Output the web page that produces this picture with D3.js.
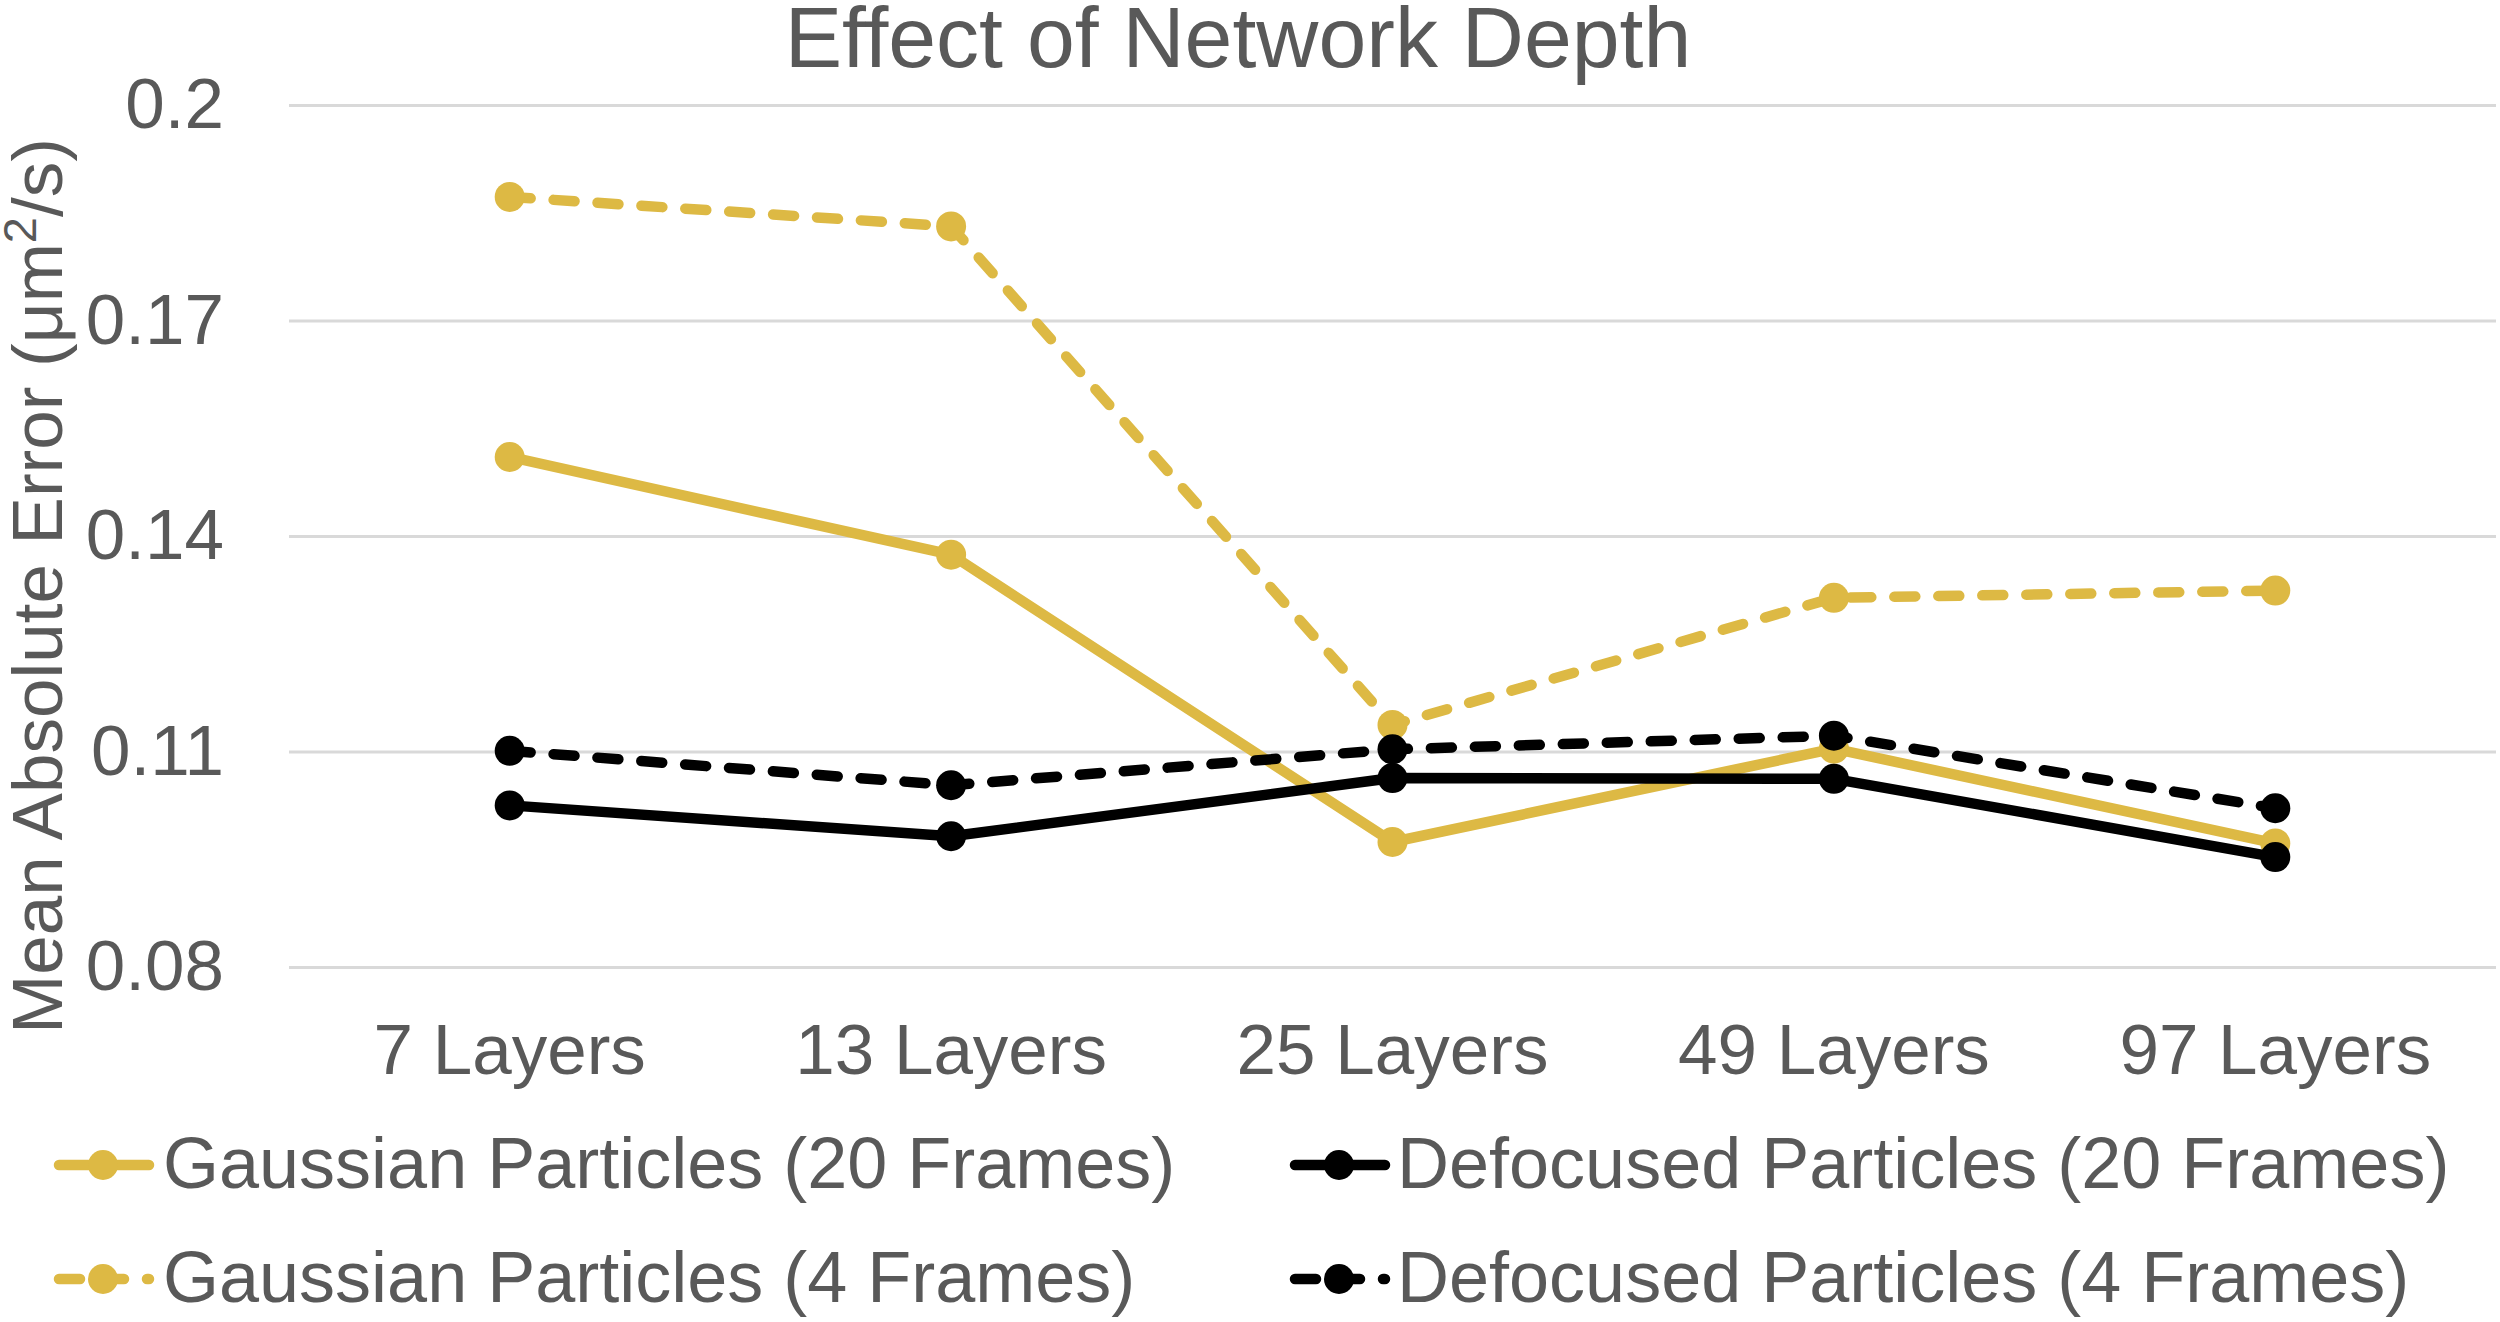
<!DOCTYPE html>
<html>
<head>
<meta charset="utf-8">
<script src="https://cdn.jsdelivr.net/npm/d3@7"></script>
<style>
  html, body { margin: 0; padding: 0; background: #ffffff; }
  svg { display: block; }
  text { font-family: "Liberation Sans", Arial, sans-serif; fill: #595959; }
</style>
</head>
<body>
<svg id="chart" width="2500" height="1322"></svg>
<script>
const categories = ["7 Layers", "13 Layers", "25 Layers", "49 Layers", "97 Layers"];
const gaussian20 = [0.1510, 0.1374, 0.0974, 0.1104, 0.0972];
const defocused20 = [0.1025, 0.0982, 0.1063, 0.1062, 0.0953];
const gaussian4 = [0.1872, 0.1831, 0.1137, 0.1314, 0.1324];
const defocused4 = [0.1101, 0.1053, 0.1103, 0.1122, 0.1021];
const yTicks = [0.08, 0.11, 0.14, 0.17, 0.2];
const yTickLabels = ["0.08", "0.11", "0.14", "0.17", "0.2"];
const seriesNames = ["Gaussian Particles (20 Frames)", "Defocused Particles (20 Frames)",
                     "Gaussian Particles (4 Frames)", "Defocused Particles (4 Frames)"];
const titleText = "Effect of Network Depth";

const GOLD = "#DDB944", BLACK = "#000000";
const series = [
  { name: seriesNames[0], values: gaussian20, color: GOLD, dashed: false },
  { name: seriesNames[1], values: defocused20, color: BLACK, dashed: false },
  { name: seriesNames[2], values: gaussian4, color: GOLD, dashed: true },
  { name: seriesNames[3], values: defocused4, color: BLACK, dashed: true }
];

const svg = d3.select("#chart");
const plotL = 289, plotR = 2496, plotT = 105, plotB = 967;

const x = d3.scaleBand().domain(categories).range([plotL, plotR]);
const y = d3.scaleLinear().domain([0.08, 0.2]).range([plotB, plotT]);

// Title
svg.append("text").attr("x", 1238).attr("y", 67).attr("text-anchor", "middle")
  .style("font-size", "86px").text(titleText);

// Y axis with gridlines
const yAxis = svg.append("g").attr("transform", `translate(${plotL},0)`)
  .call(d3.axisLeft(y).tickValues(yTicks)
    .tickFormat((d, i) => yTickLabels[i])
    .tickSize(-(plotR - plotL)).tickPadding(65));
yAxis.select(".domain").remove();
yAxis.selectAll(".tick line").attr("stroke", "#D9D9D9").attr("stroke-width", 3);
yAxis.selectAll(".tick text").style("font-size", "71px").attr("fill", "#595959")
  .style("font-family", "'Liberation Sans', Arial, sans-serif");

// X axis
const xAxis = svg.append("g").attr("transform", `translate(0,${plotB})`)
  .call(d3.axisBottom(x).tickSize(0).tickPadding(57));
xAxis.select(".domain").remove();
xAxis.selectAll(".tick text").style("font-size", "71px").attr("fill", "#595959")
  .style("font-family", "'Liberation Sans', Arial, sans-serif");

// Y axis title
const yt = svg.append("text").attr("transform", "translate(62,586) rotate(-90)")
  .attr("text-anchor", "middle").style("font-size", "71px");
yt.append("tspan").text("Mean Absolute Error (μm");
yt.append("tspan").attr("baseline-shift", "super").style("font-size", "47px").text("2");
yt.append("tspan").text("/s)");

// Lines and markers
const line = d3.line()
  .x((d, i) => x(categories[i]) + x.bandwidth() / 2)
  .y(d => y(d));

const SW = 10.5, R = 15, DASH = "21 23";
series.forEach(s => {
  const g = svg.append("g");
  g.append("path").datum(s.values).attr("d", line)
    .attr("fill", "none").attr("stroke", s.color).attr("stroke-width", SW)
    .attr("stroke-linejoin", "round")
    .attr("stroke-linecap", "round")
    .attr("stroke-dasharray", s.dashed ? DASH : null);
  g.selectAll("circle").data(s.values).enter().append("circle")
    .attr("cx", (d, i) => x(categories[i]) + x.bandwidth() / 2)
    .attr("cy", d => y(d)).attr("r", R).attr("fill", s.color);
});

// Legend
const legendPos = [
  { lx: 54, tx: 163, y: 1165 },
  { lx: 1290, tx: 1397, y: 1165 },
  { lx: 54, tx: 163, y: 1279 },
  { lx: 1290, tx: 1397, y: 1279 }
];
series.forEach((s, i) => {
  const p = legendPos[i];
  const g = svg.append("g");
  g.append("line").attr("x1", p.lx + 5).attr("x2", p.lx + 95)
    .attr("y1", p.y).attr("y2", p.y)
    .attr("stroke", s.color).attr("stroke-width", SW)
    .attr("stroke-linecap", "round")
    .attr("stroke-dasharray", s.dashed ? DASH : null);
  g.append("circle").attr("cx", p.lx + 49).attr("cy", p.y).attr("r", R).attr("fill", s.color);
  g.append("text").attr("x", p.tx).attr("y", p.y + 23)
    .style("font-size", "72px").text(s.name);
});
</script>
</body>
</html>
